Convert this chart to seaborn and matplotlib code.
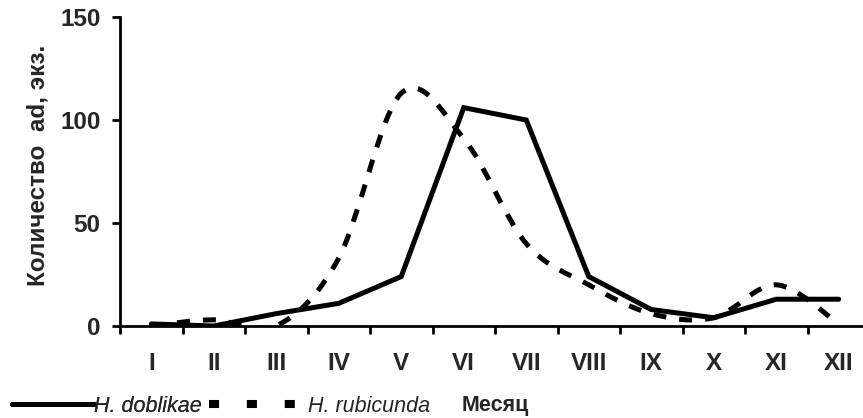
import numpy as np
import pandas as pd
import matplotlib
matplotlib.use("Agg")
import matplotlib.pyplot as plt
from matplotlib.path import Path
from matplotlib.patches import PathPatch
from matplotlib.lines import Line2D
import seaborn as sns

# Données
months = ["I", "II", "III", "IV", "V", "VI", "VII", "VIII", "IX", "X", "XI", "XII"]
doblikae = [1, 0, 6, 11, 24, 106, 100, 24, 8, 4, 13, 13]
rubicunda = [0, 3, 0, 33, 113, 91, 40, 20, 6, 4, 20, 1]

sns.set_style("ticks")
plt.rcParams["font.family"] = ["Liberation Sans", "DejaVu Sans"]

fig = plt.figure(figsize=(8.63, 4.18), dpi=100)
W, H = 863, 418
ax = fig.add_axes([120 / W, (H - 326) / H, 750 / W, 309 / H])

df = pd.DataFrame({"pos": np.arange(len(months)), "doblikae": doblikae, "rubicunda": rubicunda})

# Ligne continue
sns.lineplot(data=df, x="pos", y="doblikae", ax=ax, color="black", lw=3.6,
             solid_joinstyle="miter", solid_capstyle="round")


def smooth_path(xs, ys):
    """Courbe lissée type Excel (Catmull-Rom -> Bézier)."""
    pts = np.column_stack([xs, ys]).astype(float)
    verts = [pts[0]]
    codes = [Path.MOVETO]
    n = len(pts)
    for i in range(n - 1):
        p0 = pts[i - 1] if i > 0 else pts[i]
        p1 = pts[i]
        p2 = pts[i + 1]
        p3 = pts[i + 2] if i + 2 < n else pts[i + 1]
        c1 = p1 + (p2 - p0) / 6.0
        c2 = p2 - (p3 - p1) / 6.0
        verts += [c1, c2, p2]
        codes += [Path.CURVE4] * 3
    return Path(verts, codes)


patch = PathPatch(smooth_path(df["pos"], df["rubicunda"]), fill=False, edgecolor="black",
                  lw=3.6, linestyle=(0, (2.6, 2.6)), capstyle="butt")
ax.add_patch(patch)

ax.set_xlim(-0.5, 11.5)
ax.set_ylim(0, 150)
ax.set_yticks([0, 50, 100, 150])
ax.set_xticks(df["pos"])
ax.set_xticklabels(months)
ax.set_xticks(np.arange(-0.5, 12, 1), minor=True)

for side in ["top", "right"]:
    ax.spines[side].set_visible(False)
for side in ["left", "bottom"]:
    ax.spines[side].set_linewidth(2)
    ax.spines[side].set_color("black")

ax.tick_params(axis="x", which="major", length=0, pad=19, labelsize=17.5)
ax.tick_params(axis="x", which="minor", length=6, width=2, direction="out", color="black")
ax.tick_params(axis="y", length=6, width=2, direction="out", pad=8, labelsize=17.5, color="black")
for lab in ax.get_xticklabels() + ax.get_yticklabels():
    lab.set_fontweight("bold")

ax.set_xlabel("")
ax.set_ylabel("Количество  ad, экз.", fontsize=17.5, fontweight="bold")
ax.yaxis.set_label_coords(-71 / 750, 0.521)

fig.text(462 / W, (H - 405) / H, "Месяц", fontsize=15.5, fontweight="bold", va="center", ha="left")

# Légende : deux entrées placées séparément
leg_font = {"size": 15.5, "style": "italic"}
h_solid = Line2D([], [], color="black", lw=3.6)
h_dash = Line2D([], [], color="black", lw=5.8, linestyle=(0, (1.25, 3.45)), dash_capstyle="butt")

leg1 = fig.legend([h_solid], ["H. doblikae"], loc="lower left",
                  bbox_to_anchor=(12 / W, 1 / H), frameon=False, prop=leg_font,
                  handlelength=3.8, handletextpad=0.0, borderpad=0, borderaxespad=0)
fig.add_artist(leg1)
fig.legend([h_dash], ["H. rubicunda"], loc="lower left",
           bbox_to_anchor=(209 / W, 1 / H), frameon=False, prop=leg_font,
           handlelength=4.2, handletextpad=0.4, borderpad=0, borderaxespad=0)

fig.savefig("out.png", dpi=100)
